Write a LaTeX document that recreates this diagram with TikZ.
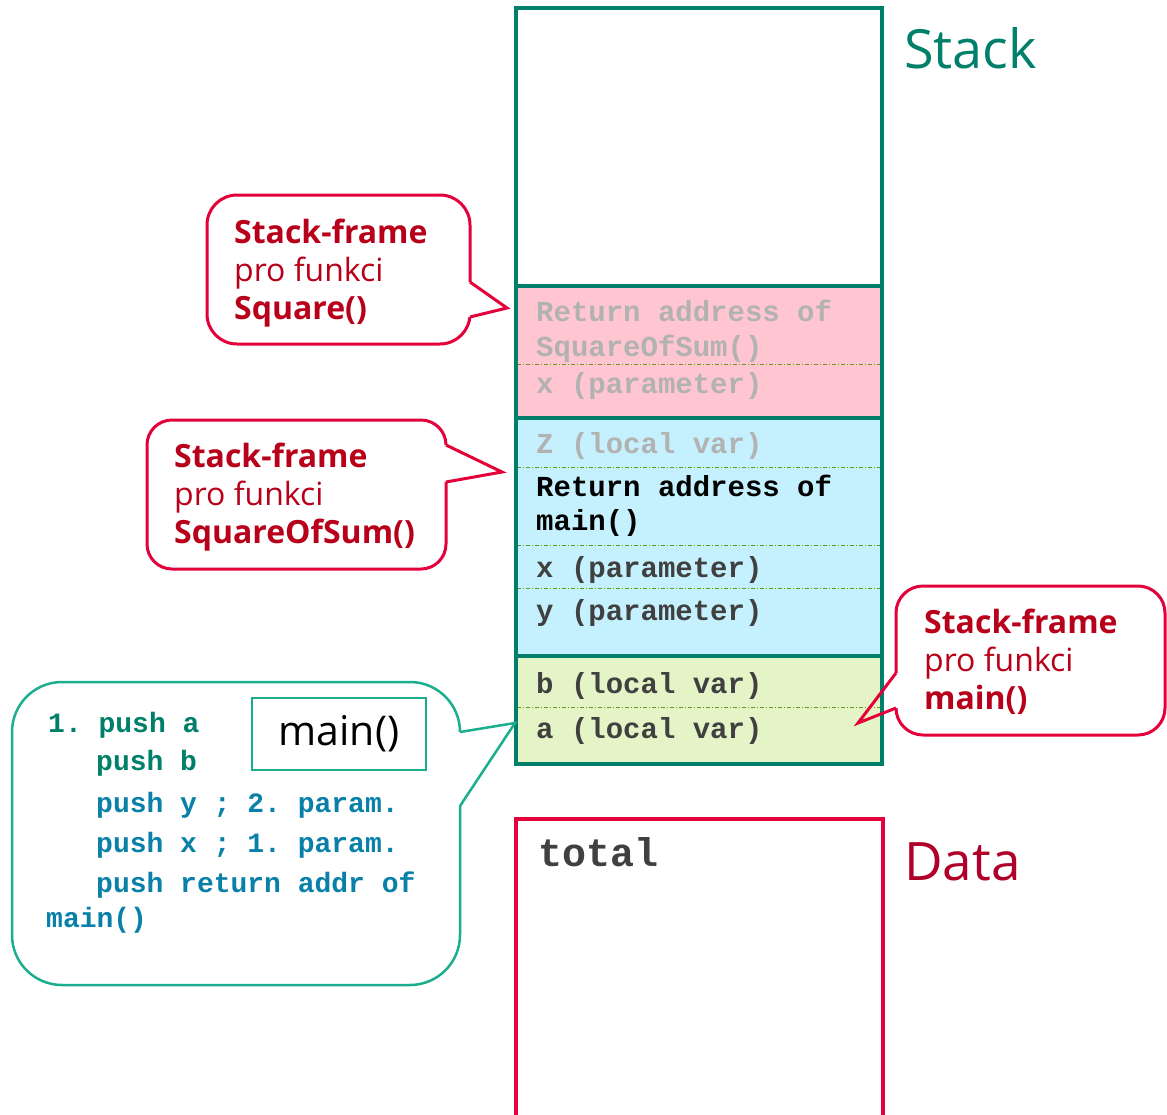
\documentclass[tikz,border=0pt]{standalone}
\usepackage{fontspec}
\setmainfont{Open Sans}
\newfontfamily\codefont{Liberation Mono}
\definecolor{stackteal}{RGB}{0,128,106}
\definecolor{datared}{RGB}{176,0,42}
\definecolor{calloutred}{RGB}{228,0,58}
\definecolor{calltextred}{RGB}{184,0,26}
\definecolor{codeteal}{RGB}{26,174,143}
\definecolor{codegreen}{RGB}{0,128,106}
\definecolor{codeblue}{RGB}{8,128,168}
\definecolor{sqfill}{RGB}{255,197,208}
\definecolor{sosfill}{RGB}{197,240,253}
\definecolor{mainfill}{RGB}{228,244,198}
\definecolor{slotgreen}{RGB}{104,152,24}
\definecolor{slotgray}{RGB}{178,178,178}
\definecolor{slotdark}{RGB}{64,64,64}
\frenchspacing

\begin{document}
\begin{tikzpicture}[x=1pt,y=-1pt,
	every node/.style={inner sep=0pt,anchor=base west},
	frameline/.style={stackteal,line width=3.5pt},
	slotline/.style={slotgreen,line width=0.8pt,dash pattern=on 4pt off 2pt on 1pt off 2pt},
	slot/.style={font=\codefont\bfseries\fontsize{29}{34}\selectfont},
	code/.style={font=\codefont\bfseries\fontsize{28}{34}\selectfont},
	callout/.style={draw=calloutred,fill=white,line width=3pt,rounded corners=30pt},
	pointer/.style={calloutred,line width=3pt},
	calltext/.style={calltextred,font=\fontsize{32}{38}\selectfont},
	callbold/.style={calltextred,font=\fontsize{32}{38}\selectfont\bfseries}]
	\useasboundingbox (0,0) rectangle (1167,1114);

	\fill[sqfill] (516,286) rectangle (882,418);
	\fill[sosfill] (516,418) rectangle (882,656);
	\fill[mainfill] (516,656) rectangle (882,764);
	\foreach \y in {364,467,545,588,707}
		\draw[slotline] (517,\y) -- (881,\y);
	\draw[frameline] (516,8) coordinate (stack top) rectangle (882,764) coordinate (stack bottom);
	\foreach \y in {286,418,656}
		\draw[frameline] (516,\y) -- (882,\y);

	\node[slot,slotgray] (sqret) at (536,321) {Return address of};
	\node[slot,slotgray] (sqret2) at (536,356) {SquareOfSum()};
	\node[slot,slotgray] (sqx) at (536,393) {x (parameter)};
	\node[slot,slotgray] (sosz) at (536,453) {Z (local var)};
	\node[slot] (sosret) at (536,496) {Return address of};
	\node[slot] (sosret2) at (536,530) {main()};
	\node[slot,slotdark] (sosx) at (536,577) {x (parameter)};
	\node[slot,slotdark] (sosy) at (536,620) {y (parameter)};
	\node[slot,slotdark] (mainb) at (536,693) {b (local var)};
	\node[slot,slotdark] (maina) at (536,738) {a (local var)};

	\node[stackteal,font=\fontsize{54}{60}\selectfont] (stack label) at (904,68) {Stack};
	\node[datared,font=\fontsize{53}{60}\selectfont] (data label) at (904,880) {Data};

	\draw[calloutred,line width=3.5pt] (516,1118) -- (516,819) coordinate (data top) -- (883,819) -- (883,1118);
	\node[slotdark,font=\codefont\bfseries\fontsize{40}{44}\selectfont] (total) at (538,866) {total};

	\draw[callout] (207,195) rectangle (470,344);
	\fill[white] (467,282) rectangle (473,317);
	\draw[pointer] (470,282) -- (507,308) coordinate (sq tip) -- (470,317);
	\node[callbold] (sqhead) at (234,243) {Stack-frame};
	\node[calltext] (sqpro) at (234,281) {pro funkci};
	\node[callbold] (sqname) at (234,319) {Square()};

	\draw[callout,rounded corners=25pt] (147,420) rectangle (446,569);
	\fill[white] (443,445) rectangle (449,482);
	\draw[pointer] (446,445) -- (502,472) coordinate (sos tip) -- (446,482);
	\node[callbold] (soshead) at (174,467) {Stack-frame};
	\node[calltext] (sospro) at (174,505) {pro funkci};
	\node[callbold] (sosname) at (174,543) {SquareOfSum()};

	\draw[callout,rounded corners=27pt] (896,586) rectangle (1165,735);
	\fill[white] (893,673) rectangle (899,708);
	\draw[pointer] (896,673) -- (858,723) coordinate (main tip) -- (896,708);
	\node[callbold] (mainhead) at (924,633) {Stack-frame};
	\node[calltext] (mainpro) at (924,671) {pro funkci};
	\node[callbold] (mainname) at (924,709) {main()};

	\draw[draw=codeteal,fill=white,line width=2.5pt,rounded corners=50pt] (12,682) rectangle (460,985);
	\fill[white] (457,732) rectangle (463,806);
	\draw[codeteal,line width=2.5pt] (460,732) -- (515,723) coordinate (code tip) -- (460,806);
	\node[draw=codeteal,line width=2.5pt,anchor=center,minimum width=174pt,minimum height=72pt,
		font=\fontsize{41}{44}\selectfont] (mainbox) at (339,734) {main()};

	\node[code,codegreen] (pusha) at (48,732) {1. push a};
	\node[code,codegreen] (pushb) at (96,770) {push b};
	\node[code,codeblue] (pushy) at (96,812) {push y ; 2. param.};
	\node[code,codeblue] (pushx) at (96,852) {push x ; 1. param.};
	\node[code,codeblue] (pushret) at (96,892) {push return addr of};
	\node[code,codeblue] (pushret2) at (46,927) {main()};
\end{tikzpicture}
\end{document}
